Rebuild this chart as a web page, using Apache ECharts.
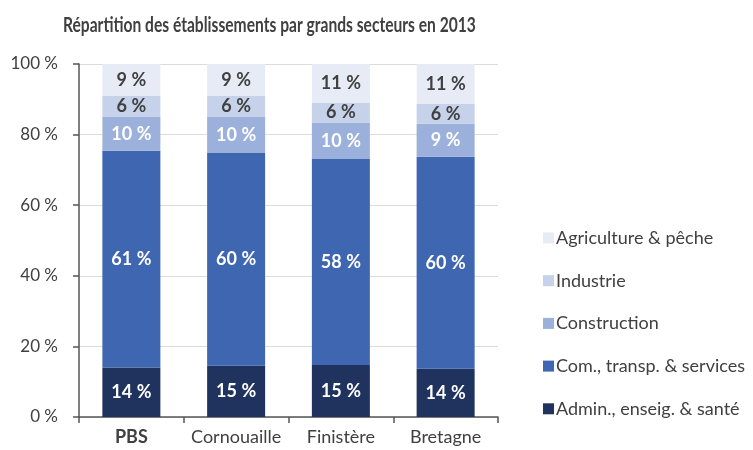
<!DOCTYPE html>
<html><head><meta charset="utf-8">
<script src="https://cdn.jsdelivr.net/npm/echarts@6/dist/echarts.min.js"></script>
<style>html,body{margin:0;padding:0;background:#fff}#c{width:753px;height:450px}</style>
</head><body><div id="c"></div>
<script>
const categories = ['PBS', 'Cornouaille', 'Finistère', 'Bretagne'];
const seriesNames = ['Admin., enseig. & santé', 'Com., transp. & services', 'Construction', 'Industrie', 'Agriculture & pêche'];
const admin = [14.0, 14.5, 14.7, 13.7];
const commerce = [61.4, 60.4, 58.4, 60.0];
const construction = [9.7, 10.1, 10.3, 9.4];
const industrie = [5.8, 5.9, 5.7, 5.6];
const agriculture = [9.1, 9.1, 10.9, 11.3];
const yTicks = [0, 20, 40, 60, 80, 100];
const titleText = 'Répartition des établissements par grands secteurs en 2013';

const colors = ['#1f335e', '#3f66b0', '#9bb0da', '#c6d1ea', '#e7ebf6'];
const labelColors = ['#ffffff', '#ffffff', '#ffffff', '#404040', '#404040'];
const values = [admin, commerce, construction, industrie, agriculture];
const FONT = 'Lato';

const chart = echarts.init(document.getElementById('c'), null, {renderer: 'canvas'});
chart.setOption({
  animation: false,
  textStyle: {fontFamily: FONT},
  graphic: [{
    type: 'text', x: 63, y: 26, scaleX: 0.78,
    style: {text: titleText, fontFamily: 'Lato', fontWeight: 'bold', fontSize: 20,
      fill: '#404040', textVerticalAlign: 'middle', verticalAlign: 'middle'}
  }],
  grid: {left: 79, right: 255, top: 64, bottom: 33, containLabel: false},
  legend: {
    orient: 'vertical', left: 538, top: 223, itemGap: 22.7,
    itemWidth: 11, itemHeight: 11, icon: 'rect',
    data: seriesNames.slice().reverse(),
    textStyle: {fontFamily: FONT, fontSize: 18, color: '#404040', lineHeight: 20, padding: [0, 0, 0, -3]}
  },
  xAxis: {
    type: 'category', data: categories,
    axisLine: {lineStyle: {color: '#555', width: 1.5}},
    axisTick: {show: true, length: 6, lineStyle: {color: '#555', width: 1.5}},
    axisLabel: {
      interval: 0,
      fontFamily: FONT, fontSize: 18, color: '#404040', margin: 11,
      formatter: v => v === 'PBS' ? '{b|' + v + '}' : v,
      rich: {b: {fontFamily: FONT, fontSize: 18, fontWeight: 'bold', color: '#404040'}}
    }
  },
  yAxis: {
    type: 'value', min: 0, max: 100, interval: 20,
    axisLine: {show: true, lineStyle: {color: '#555', width: 1.5}},
    axisTick: {show: true, length: 6, lineStyle: {color: '#555', width: 1.5}},
    splitLine: {lineStyle: {color: '#dcdcdc', width: 1}},
    axisLabel: {fontFamily: FONT, fontSize: 17, color: '#404040', margin: 21,
      formatter: v => yTicks.includes(v) ? v + ' %' : ''}
  },
  series: seriesNames.map((n, i) => ({
    name: n, type: 'bar', stack: 'total', barWidth: 58,
    data: values[i],
    itemStyle: {color: colors[i]},
    label: {show: true, position: 'inside', fontFamily: FONT, fontSize: 18, fontWeight: 'bold',
      color: labelColors[i], formatter: p => Math.round(p.value) + ' %'}
  }))
});
</script></body></html>
